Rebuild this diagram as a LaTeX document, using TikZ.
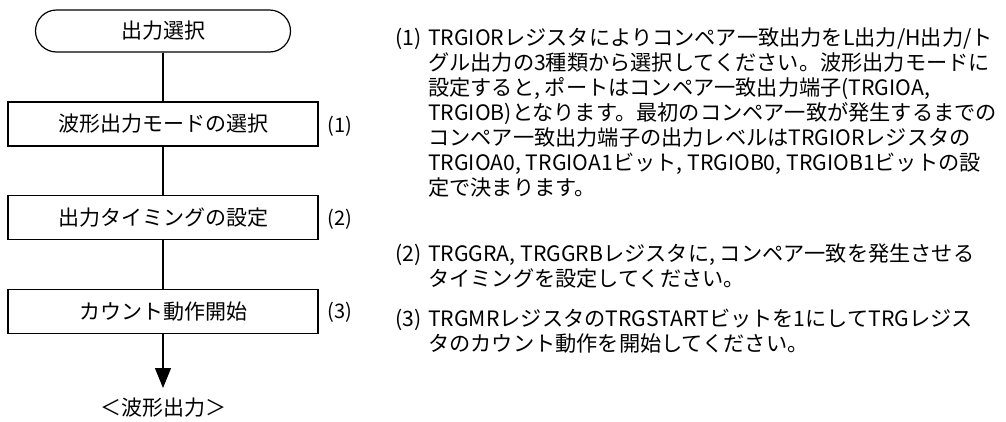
\documentclass[tikz,border=0pt]{standalone}
\usepackage{fontspec}
\setmainfont{Noto Sans CJK JP}
\usetikzlibrary{arrows.meta}

\tikzset{
  flowbox/.style={draw, line width=1.2pt, minimum width=310pt, minimum height=44pt, inner sep=0pt, font=\fontsize{21}{24}\selectfont},
  termbox/.style={flowbox, minimum width=255pt, minimum height=42pt, rounded corners=21pt},
  steplbl/.style={inner sep=0pt, font=\fontsize{20}{24}\selectfont},
  notetext/.style={anchor=base west, inner sep=0pt, font=\fontsize{21.2}{24.4}\selectfont},
  flowline/.style={line width=1.2pt}
}

\begin{document}
\begin{tikzpicture}[x=1pt, y=-1pt]
\useasboundingbox (0,0) rectangle (1006,421);

% Flow chart
\node[termbox] (start) at (163,31) {出力選択};
\node[flowbox] (mode) at (163,124) {波形出力モードの選択};
\node[flowbox] (timing) at (163,217.5) {出力タイミングの設定};
\node[flowbox] (count) at (163,311.5) {カウント動作開始};
\coordinate (out) at (163,388);
\node[inner sep=0pt, font=\fontsize{21}{24}\selectfont] (outlbl) at (163,408) {＜波形出力＞};

\draw[flowline] (start) -- (mode);
\draw[flowline] (mode) -- (timing);
\draw[flowline] (timing) -- (count);
\draw[flowline, -{Triangle[width=16pt,length=20pt]}] (count) -- (out);

% Step numbers
\node[steplbl] (num1) at (340,126) {(1)};
\node[steplbl] (num2) at (340,219) {(2)};
\node[steplbl] (num3) at (340,312) {(3)};

% Notes
\node[notetext] (note1) at (395,45) {\begin{tabular}[t]{@{}p{33pt}@{}l@{}}
(1) & TRGIORレジスタによりコンペア一致出力をL出力/H出力/ト\\
 & グル出力の3種類から選択してください。波形出力モードに\\
 & 設定すると, ポートはコンペア一致出力端子(TRGIOA,\\
 & TRGIOB)となります。最初のコンペア一致が発生するまでの\\
 & コンペア一致出力端子の出力レベルはTRGIORレジスタの\\
 & TRGIOA0, TRGIOA1ビット, TRGIOB0, TRGIOB1ビットの設\\
 & 定で決まります。
\end{tabular}};
\node[notetext] (note2) at (395,261) {\begin{tabular}[t]{@{}p{33pt}@{}l@{}}
(2) & TRGGRA, TRGGRBレジスタに, コンペア一致を発生させる\\
 & タイミングを設定してください。
\end{tabular}};
\node[notetext] (note3) at (395,326) {\begin{tabular}[t]{@{}p{33pt}@{}l@{}}
(3) & TRGMRレジスタのTRGSTARTビットを1にしてTRGレジス\\
 & タのカウント動作を開始してください。
\end{tabular}};

\end{tikzpicture}
\end{document}
